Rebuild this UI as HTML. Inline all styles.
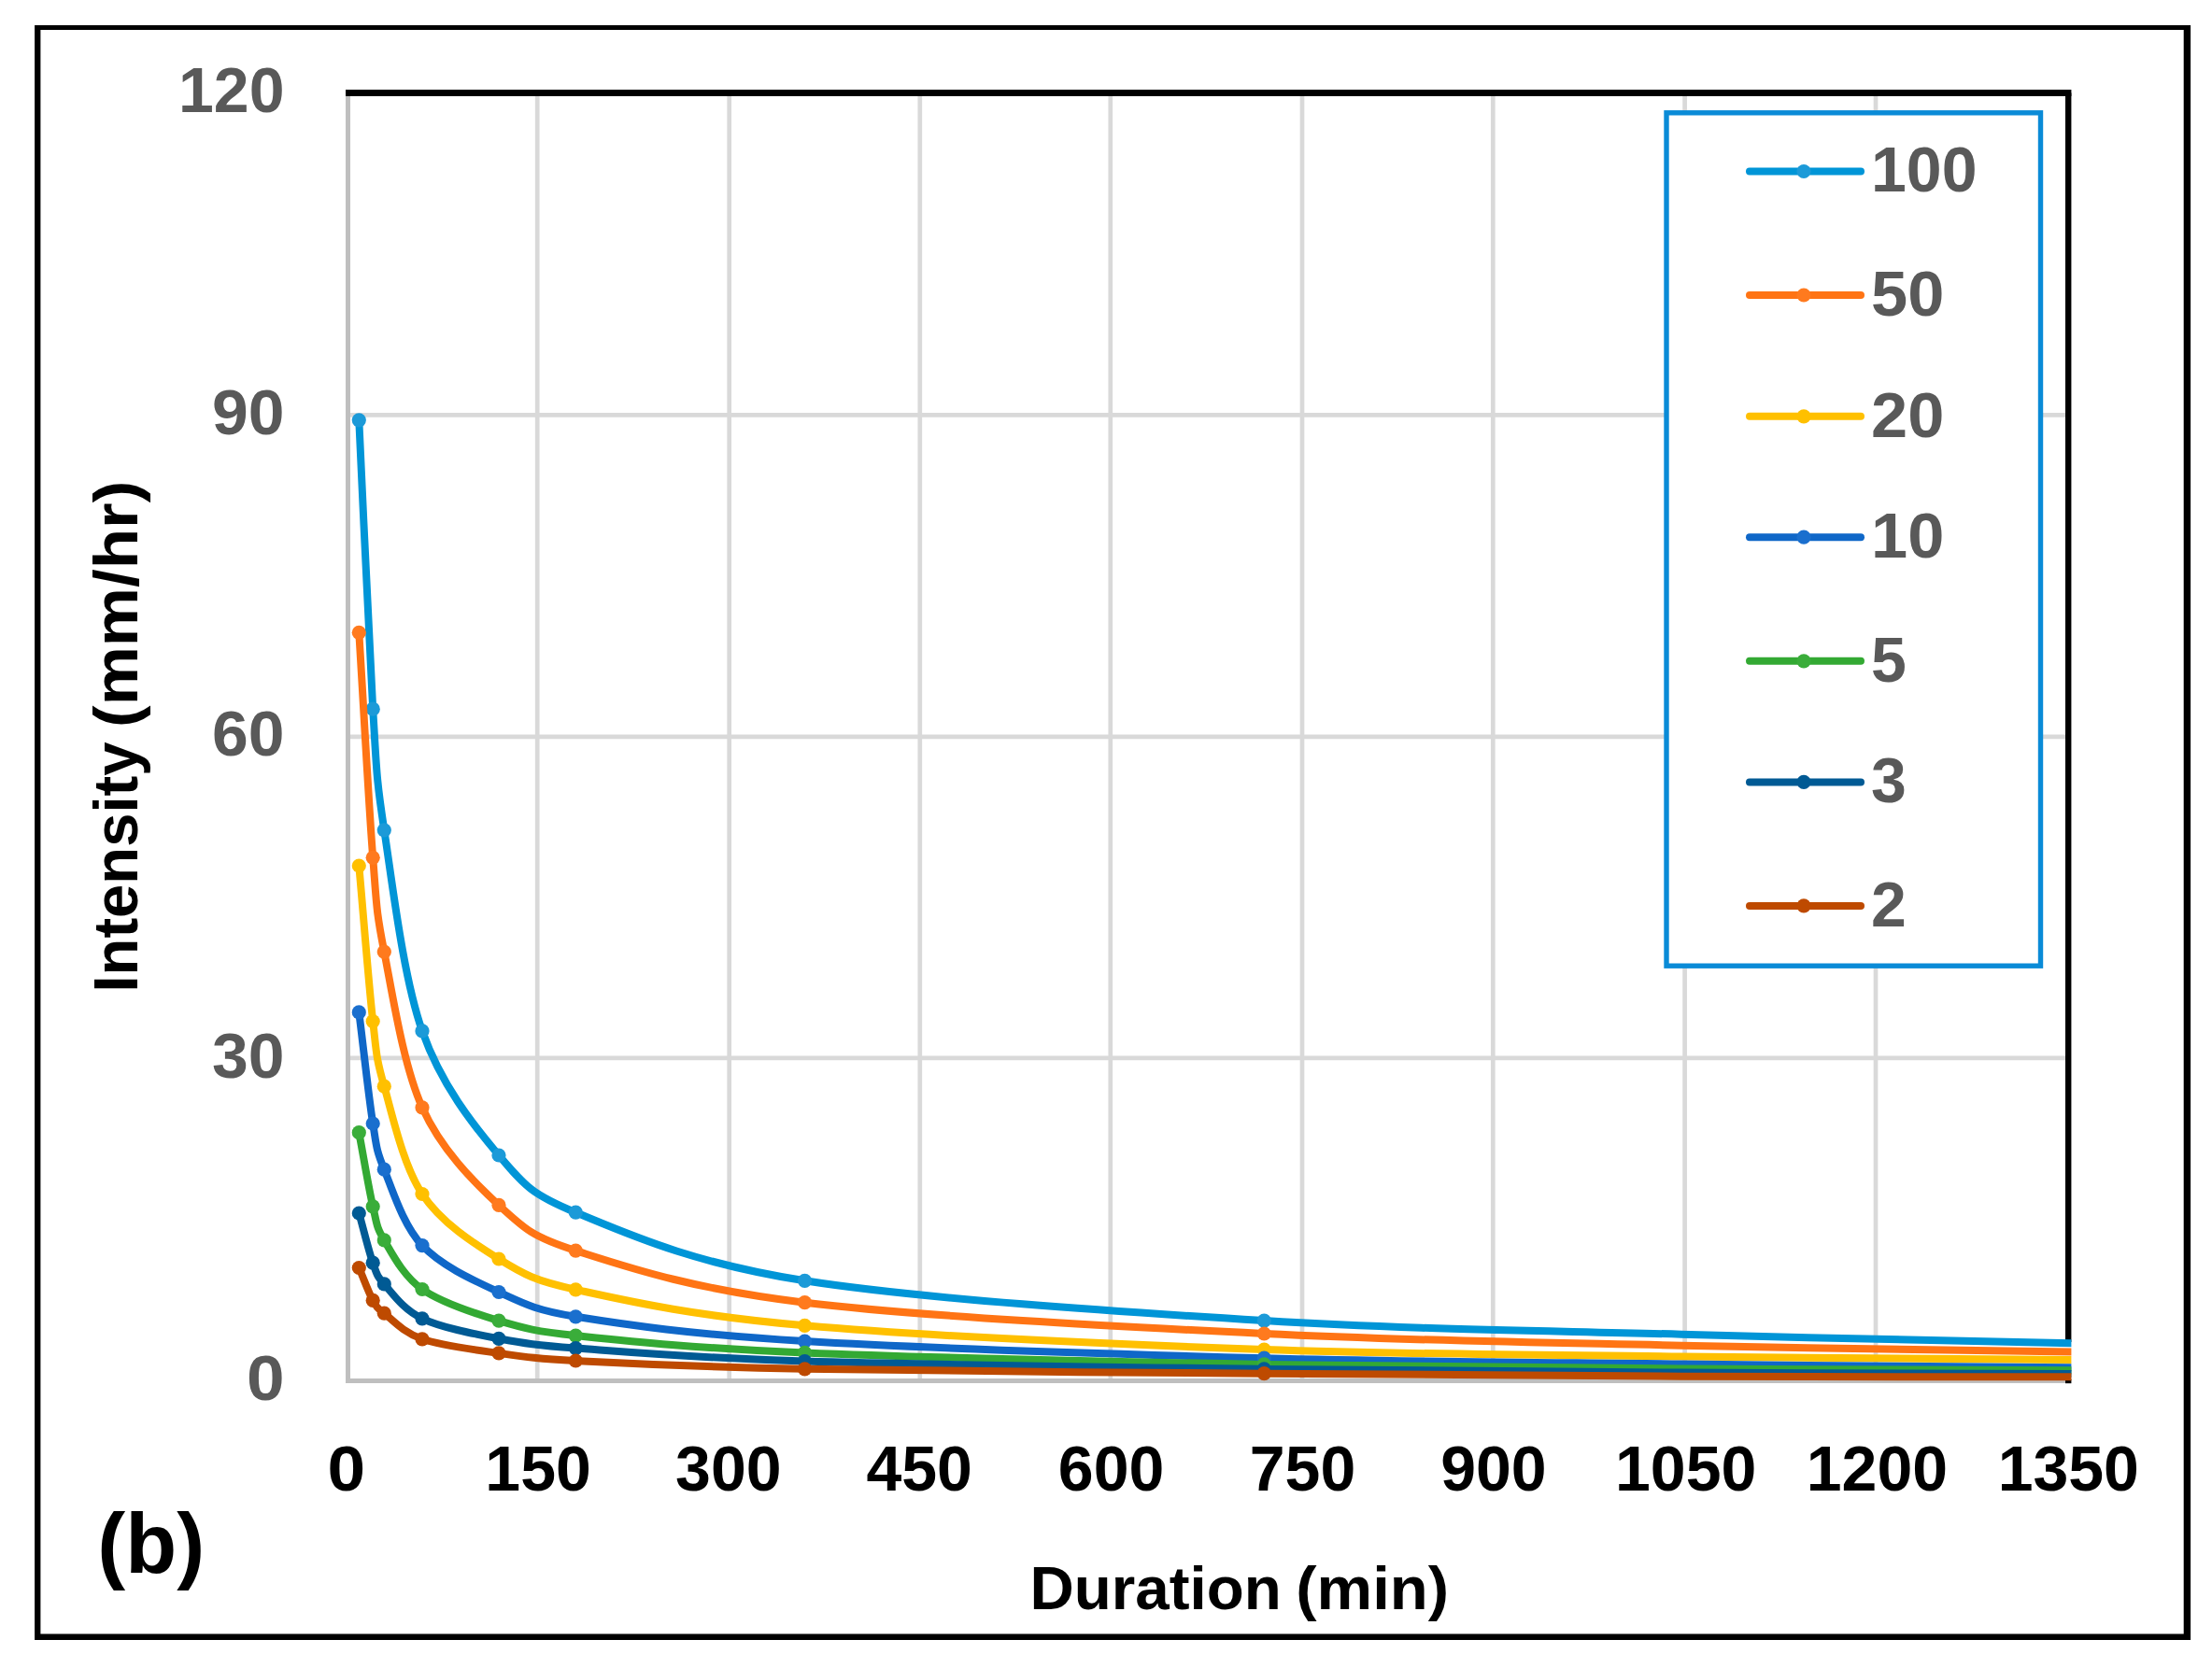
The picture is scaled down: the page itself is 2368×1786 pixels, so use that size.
<!DOCTYPE html>
<html lang="en"><head><meta charset="utf-8"><title>IDF curves (b)</title>
<style>html,body{margin:0;padding:0;background:#fff}svg{display:block}text{font-family:"Liberation Sans",sans-serif;font-weight:700}</style>
</head><body>
<svg width="2368" height="1786" viewBox="0 0 2368 1786">
<rect x="0" y="0" width="2368" height="1786" fill="#fff"/>
<path fill="#000" d="M37.1 27.1H2345.1V1755.9H37.1Z M43.4 32.1V1749.6H2337.7V32.1Z" fill-rule="evenodd"/>
<g stroke="#d9d9d9" stroke-width="4.7" fill="none">
<line x1="575.2" y1="99.5" x2="575.2" y2="1478.5"/>
<line x1="780.7" y1="99.5" x2="780.7" y2="1478.5"/>
<line x1="984.8" y1="99.5" x2="984.8" y2="1478.5"/>
<line x1="1188.8" y1="99.5" x2="1188.8" y2="1478.5"/>
<line x1="1394.0" y1="99.5" x2="1394.0" y2="1478.5"/>
<line x1="1598.3" y1="99.5" x2="1598.3" y2="1478.5"/>
<line x1="1803.6" y1="99.5" x2="1803.6" y2="1478.5"/>
<line x1="2008.0" y1="99.5" x2="2008.0" y2="1478.5"/>
<line x1="371.7" y1="1132.9" x2="2214.2" y2="1132.9"/>
<line x1="371.7" y1="788.9" x2="2214.2" y2="788.9"/>
<line x1="371.7" y1="444.3" x2="2214.2" y2="444.3"/>
</g>
<line x1="372.5" y1="99.5" x2="372.5" y2="1481.0" stroke="#bfbfbf" stroke-width="5"/>
<line x1="370.0" y1="1478.5" x2="2214.2" y2="1478.5" stroke="#bfbfbf" stroke-width="5"/>
<line x1="370.0" y1="99.5" x2="2217.4" y2="99.5" stroke="#000" stroke-width="7"/>
<line x1="2214.2" y1="99.5" x2="2214.2" y2="1437" stroke="#000" stroke-width="6.4"/>
<rect x="2211.0" y="1476.5" width="6.4" height="4.7" fill="#000"/>
<clipPath id="plotclip"><rect x="360" y="90" width="1857.4" height="1400"/></clipPath>
<g clip-path="url(#plotclip)" fill="none" stroke-linecap="round" stroke-linejoin="round">
<path d="M384.3 449.8 C389.3 552.9 394.7 686.0 399.2 759.2 C403.2 824.2 402.5 831.3 411.3 888.8 C420.1 946.2 431.6 1045.9 452.0 1103.9 C472.4 1161.9 506.6 1204.6 534.0 1237.0 C561.4 1269.4 568.9 1278.7 616.3 1298.2 C670.9 1320.6 738.7 1352.0 861.5 1371.3 C984.3 1390.6 1196.9 1404.5 1353.3 1414.1 C1509.7 1423.7 1656.0 1424.7 1800.0 1428.7 C1944.0 1432.7 2128.2 1436.3 2217.5 1438.3 C2276.7 1439.6 2296.5 1439.9 2336.0 1440.7" stroke="#0095d7" stroke-width="8.0"/>
<g fill="#1c9ad8" stroke="none"><circle cx="384.3" cy="449.8" r="7.6"/><circle cx="399.2" cy="759.2" r="7.6"/><circle cx="411.3" cy="888.8" r="7.6"/><circle cx="452.0" cy="1103.9" r="7.6"/><circle cx="534.0" cy="1237.0" r="7.6"/><circle cx="616.3" cy="1298.2" r="7.6"/><circle cx="861.5" cy="1371.3" r="7.6"/><circle cx="1353.3" cy="1414.1" r="7.6"/></g>
<path d="M384.3 677.3 C389.3 757.6 394.7 861.3 399.2 918.3 C403.2 969.0 402.5 974.6 411.3 1019.2 C420.1 1063.8 431.6 1140.6 452.0 1185.8 C472.4 1231.0 506.6 1264.9 534.0 1290.4 C561.4 1316.0 570.7 1324.6 616.3 1339.1 C670.9 1356.5 738.7 1379.9 861.5 1394.7 C984.3 1409.5 1196.9 1420.3 1353.3 1428.0 C1509.7 1435.7 1656.0 1437.5 1800.0 1440.7 C1944.0 1444.0 2128.2 1446.1 2217.5 1447.5 C2276.7 1448.4 2296.5 1448.6 2336.0 1449.2" stroke="#ff7414" stroke-width="8.0"/>
<g fill="#ff7a1e" stroke="none"><circle cx="384.3" cy="677.3" r="7.6"/><circle cx="399.2" cy="918.3" r="7.6"/><circle cx="411.3" cy="1019.2" r="7.6"/><circle cx="452.0" cy="1185.8" r="7.6"/><circle cx="534.0" cy="1290.4" r="7.6"/><circle cx="616.3" cy="1339.1" r="7.6"/><circle cx="861.5" cy="1394.7" r="7.6"/><circle cx="1353.3" cy="1428.0" r="7.6"/></g>
<path d="M384.3 927.0 C389.3 982.5 394.7 1054.2 399.2 1093.6 C403.2 1128.7 402.5 1132.4 411.3 1163.2 C420.1 1194.0 431.6 1247.7 452.0 1278.5 C472.4 1309.3 506.6 1331.0 534.0 1348.0 C561.4 1365.0 573.0 1371.4 616.3 1380.8 C670.9 1392.7 738.7 1408.6 861.5 1419.3 C984.3 1430.0 1196.9 1439.5 1353.3 1445.0 C1509.7 1450.5 1656.0 1450.6 1800.0 1452.4 C1944.0 1454.2 2128.2 1455.2 2217.5 1455.9 C2276.7 1456.4 2296.5 1456.5 2336.0 1456.8" stroke="#ffc000" stroke-width="8.0"/>
<g fill="#ffc000" stroke="none"><circle cx="384.3" cy="927.0" r="7.6"/><circle cx="399.2" cy="1093.6" r="7.6"/><circle cx="411.3" cy="1163.2" r="7.6"/><circle cx="452.0" cy="1278.5" r="7.6"/><circle cx="534.0" cy="1348.0" r="7.6"/><circle cx="616.3" cy="1380.8" r="7.6"/><circle cx="861.5" cy="1419.3" r="7.6"/><circle cx="1353.3" cy="1445.0" r="7.6"/></g>
<path d="M384.3 1083.9 C389.3 1123.6 394.7 1175.0 399.2 1203.0 C403.2 1228.0 402.5 1230.4 411.3 1252.2 C420.1 1274.0 431.6 1311.7 452.0 1333.6 C472.4 1355.5 506.6 1370.8 534.0 1383.5 C561.4 1396.2 573.6 1402.9 616.3 1409.8 C670.9 1418.6 738.7 1428.7 861.5 1436.1 C984.3 1443.5 1196.9 1450.1 1353.3 1454.2 C1509.7 1458.3 1656.0 1458.8 1800.0 1460.5 C1944.0 1462.2 2128.2 1463.5 2217.5 1464.3 C2276.7 1464.8 2296.5 1464.9 2336.0 1465.2" stroke="#0f67c8" stroke-width="8.0"/>
<g fill="#1a6fce" stroke="none"><circle cx="384.3" cy="1083.9" r="7.6"/><circle cx="399.2" cy="1203.0" r="7.6"/><circle cx="411.3" cy="1252.2" r="7.6"/><circle cx="452.0" cy="1333.6" r="7.6"/><circle cx="534.0" cy="1383.5" r="7.6"/><circle cx="616.3" cy="1409.8" r="7.6"/><circle cx="861.5" cy="1436.1" r="7.6"/><circle cx="1353.3" cy="1454.2" r="7.6"/></g>
<path d="M384.3 1212.7 C389.3 1239.1 394.7 1272.6 399.2 1291.8 C403.5 1310.3 402.5 1313.1 411.3 1327.9 C420.1 1342.7 431.6 1366.1 452.0 1380.5 C472.4 1394.9 506.6 1405.9 534.0 1414.2 C561.4 1422.5 574.6 1425.7 616.3 1430.1 C670.9 1435.8 738.7 1443.3 861.5 1448.4 C984.3 1453.5 1196.9 1458.1 1353.3 1460.9 C1509.7 1463.8 1656.0 1464.5 1800.0 1465.5 C1944.0 1466.5 2128.2 1466.8 2217.5 1467.2 C2276.7 1467.4 2296.5 1467.5 2336.0 1467.6" stroke="#33a933" stroke-width="8.0"/>
<g fill="#3aad3a" stroke="none"><circle cx="384.3" cy="1212.7" r="7.6"/><circle cx="399.2" cy="1291.8" r="7.6"/><circle cx="411.3" cy="1327.9" r="7.6"/><circle cx="452.0" cy="1380.5" r="7.6"/><circle cx="534.0" cy="1414.2" r="7.6"/><circle cx="616.3" cy="1430.1" r="7.6"/><circle cx="861.5" cy="1448.4" r="7.6"/><circle cx="1353.3" cy="1460.9" r="7.6"/></g>
<path d="M384.3 1299.0 C389.3 1316.7 394.7 1339.5 399.2 1352.2 C403.5 1364.3 402.8 1365.3 411.3 1374.9 C420.1 1384.8 431.6 1402.1 452.0 1411.8 C472.4 1421.5 506.6 1428.0 534.0 1433.3 C561.4 1438.6 574.9 1440.5 616.3 1443.6 C670.9 1447.6 738.8 1453.8 861.5 1457.5 C984.3 1461.2 1196.9 1463.9 1353.3 1465.9 C1509.7 1467.9 1656.0 1468.8 1800.0 1469.6 C1944.0 1470.4 2128.2 1470.7 2217.5 1471.0 C2276.7 1471.2 2296.5 1471.2 2336.0 1471.3" stroke="#005a94" stroke-width="8.0"/>
<g fill="#005a94" stroke="none"><circle cx="384.3" cy="1299.0" r="7.6"/><circle cx="399.2" cy="1352.2" r="7.6"/><circle cx="411.3" cy="1374.9" r="7.6"/><circle cx="452.0" cy="1411.8" r="7.6"/><circle cx="534.0" cy="1433.3" r="7.6"/><circle cx="616.3" cy="1443.6" r="7.6"/><circle cx="861.5" cy="1457.5" r="7.6"/><circle cx="1353.3" cy="1465.9" r="7.6"/></g>
<path d="M384.3 1357.5 C389.3 1369.1 394.7 1384.3 399.2 1392.4 C403.6 1400.4 404.1 1400.5 411.3 1406.2 C420.1 1413.1 431.6 1426.7 452.0 1433.8 C472.4 1440.9 506.6 1445.0 534.0 1448.9 C561.4 1452.8 575.0 1454.9 616.3 1457.0 C670.9 1459.8 738.8 1463.5 861.5 1465.8 C984.3 1468.1 1196.9 1469.4 1353.3 1470.7 C1509.7 1472.0 1656.0 1473.1 1800.0 1473.7 C1944.0 1474.3 2128.2 1474.2 2217.5 1474.3 C2276.7 1474.4 2296.5 1474.4 2336.0 1474.4" stroke="#be4a00" stroke-width="8.0"/>
<g fill="#be4a00" stroke="none"><circle cx="384.3" cy="1357.5" r="7.6"/><circle cx="399.2" cy="1392.4" r="7.6"/><circle cx="411.3" cy="1406.2" r="7.6"/><circle cx="452.0" cy="1433.8" r="7.6"/><circle cx="534.0" cy="1448.9" r="7.6"/><circle cx="616.3" cy="1457.0" r="7.6"/><circle cx="861.5" cy="1465.8" r="7.6"/><circle cx="1353.3" cy="1470.7" r="7.6"/></g>
</g>
<rect x="1784.0" y="120.8" width="400.5" height="913.4" fill="#fff" stroke="#0a8bd7" stroke-width="5.4"/>
<line x1="1873.0" y1="183.5" x2="1992.0" y2="183.5" stroke="#0095d7" stroke-width="8" stroke-linecap="round"/>
<circle cx="1931.0" cy="183.5" r="7.6" fill="#1c9ad8"/>
<text x="2003" y="205.2" font-size="68" fill="#595959">100</text>
<line x1="1873.0" y1="316.0" x2="1992.0" y2="316.0" stroke="#ff7414" stroke-width="8" stroke-linecap="round"/>
<circle cx="1931.0" cy="316.0" r="7.6" fill="#ff7a1e"/>
<text x="2003" y="337.7" font-size="68" fill="#595959" textLength="78.3" lengthAdjust="spacingAndGlyphs">50</text>
<line x1="1873.0" y1="445.8" x2="1992.0" y2="445.8" stroke="#ffc000" stroke-width="8" stroke-linecap="round"/>
<circle cx="1931.0" cy="445.8" r="7.6" fill="#ffc000"/>
<text x="2003" y="467.5" font-size="68" fill="#595959" textLength="78.3" lengthAdjust="spacingAndGlyphs">20</text>
<line x1="1873.0" y1="575.2" x2="1992.0" y2="575.2" stroke="#0f67c8" stroke-width="8" stroke-linecap="round"/>
<circle cx="1931.0" cy="575.2" r="7.6" fill="#1a6fce"/>
<text x="2003" y="596.9" font-size="68" fill="#595959" textLength="78.3" lengthAdjust="spacingAndGlyphs">10</text>
<line x1="1873.0" y1="707.8" x2="1992.0" y2="707.8" stroke="#33a933" stroke-width="8" stroke-linecap="round"/>
<circle cx="1931.0" cy="707.8" r="7.6" fill="#3aad3a"/>
<text x="2003" y="729.5" font-size="68" fill="#595959">5</text>
<line x1="1873.0" y1="837.4" x2="1992.0" y2="837.4" stroke="#005a94" stroke-width="8" stroke-linecap="round"/>
<circle cx="1931.0" cy="837.4" r="7.6" fill="#005a94"/>
<text x="2003" y="859.1" font-size="68" fill="#595959">3</text>
<line x1="1873.0" y1="969.9" x2="1992.0" y2="969.9" stroke="#be4a00" stroke-width="8" stroke-linecap="round"/>
<circle cx="1931.0" cy="969.9" r="7.6" fill="#be4a00"/>
<text x="2003" y="991.6" font-size="68" fill="#595959">2</text>
<text x="304.5" y="1498.5" font-size="68" fill="#595959" text-anchor="end" textLength="40.6" lengthAdjust="spacingAndGlyphs">0</text>
<text x="304.5" y="1153.7" font-size="68" fill="#595959" text-anchor="end" textLength="77.5" lengthAdjust="spacingAndGlyphs">30</text>
<text x="304.5" y="809.2" font-size="68" fill="#595959" text-anchor="end" textLength="77.5" lengthAdjust="spacingAndGlyphs">60</text>
<text x="304.5" y="464.9" font-size="68" fill="#595959" text-anchor="end" textLength="77.5" lengthAdjust="spacingAndGlyphs">90</text>
<text x="304.5" y="119.5" font-size="68" fill="#595959" text-anchor="end">120</text>
<text x="370.7" y="1595.9" font-size="68" fill="#000" text-anchor="middle" textLength="40.6" lengthAdjust="spacingAndGlyphs">0</text>
<text x="576.1" y="1595.9" font-size="68" fill="#000" text-anchor="middle">150</text>
<text x="779.8" y="1595.9" font-size="68" fill="#000" text-anchor="middle">300</text>
<text x="984.2" y="1595.9" font-size="68" fill="#000" text-anchor="middle">450</text>
<text x="1189.6" y="1595.9" font-size="68" fill="#000" text-anchor="middle">600</text>
<text x="1394.5" y="1595.9" font-size="68" fill="#000" text-anchor="middle">750</text>
<text x="1598.9" y="1595.9" font-size="68" fill="#000" text-anchor="middle">900</text>
<text x="1804.7" y="1595.9" font-size="68" fill="#000" text-anchor="middle">1050</text>
<text x="2009.4" y="1595.9" font-size="68" fill="#000" text-anchor="middle">1200</text>
<text x="2214.3" y="1595.9" font-size="68" fill="#000" text-anchor="middle">1350</text>
<text x="1102.5" y="1722.6" font-size="65.5" fill="#000"><tspan x="1102.5">Duration</tspan> <tspan x="1387.3" textLength="163.8" lengthAdjust="spacingAndGlyphs">(min)</tspan></text>
<text transform="translate(146.6 1062.5) rotate(-90)" font-size="67" fill="#000"><tspan x="0" textLength="268" lengthAdjust="spacingAndGlyphs">Intensity</tspan> <tspan x="283.5" textLength="264.4" lengthAdjust="spacingAndGlyphs">(mm/hr)</tspan></text>
<text x="104.3" y="1684.0" font-size="90" fill="#000">(b)</text>
</svg>
</body></html>
